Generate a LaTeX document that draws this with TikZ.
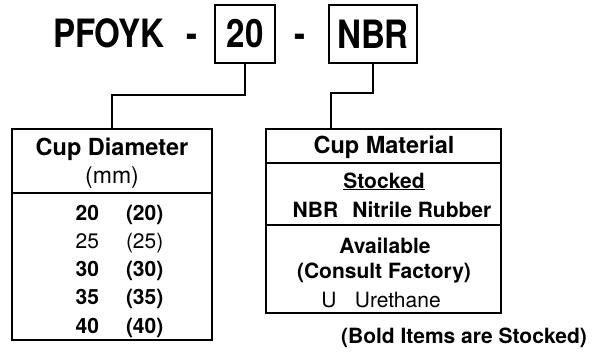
\documentclass[tikz,border=0pt]{standalone}
\usepackage{fontspec}
\setmainfont{TeX Gyre Heros}
\usepackage{tikz}
\usetikzlibrary{positioning}

\newcommand{\titletxt}[1]{\scalebox{0.85}[1]{#1}}

\begin{document}
\begin{tikzpicture}[x=1pt, y=-1pt, line width=2pt,
    big/.style={font=\fontsize{39}{44}\selectfont\bfseries, inner sep=0pt},
    codebox/.style={draw, big, minimum height=58pt},
    txt/.style={font=\fontsize{21}{25}\selectfont, inner sep=0pt, anchor=base},
    txtb/.style={txt, font=\fontsize{21}{25}\selectfont\bfseries},
    headtxt/.style={txt, font=\fontsize{23.5}{27}\selectfont\bfseries},
    unittxt/.style={txt, font=\fontsize{23}{27}\selectfont},
    panel/.style={draw, inner sep=0pt}]
    \useasboundingbox (0,0) rectangle (604,351);

    % 1. Order code
    \node[big, anchor=base west] (pfoyk) at (52,47) {\titletxt{PFOYK}};
    \node[big, anchor=base] (dasha) at (192,47) {\titletxt{-}};
    \node[codebox, minimum width=60pt] (code20) at (245,34) {\titletxt{20}};
    \node[big, anchor=base] (dashb) at (300,47) {\titletxt{-}};
    \node[codebox, minimum width=88pt] (codenbr) at (373,34) {\titletxt{NBR}};

    % 2. Panels
    \node[panel, minimum width=200pt, minimum height=211pt] (diam) at (112,234.5) {};
    \node[panel, minimum width=235pt, minimum height=184pt] (mat) at (383.5,221) {};
    \draw (diam.west |- 0,193) -- (diam.east |- 0,193);
    \draw (mat.west |- 0,163) -- (mat.east |- 0,163);
    \draw (mat.west |- 0,225) -- (mat.east |- 0,225);

    % 3. Connectors
    \draw (code20.south) -- ++(0,31) -| (diam.north);
    \draw (codenbr.south) -- ++(0,29) -| ([xshift=-53pt]mat.north);

    % 4. Cup diameter panel
    \node[headtxt] (dhead) at (112,155) {Cup Diameter};
    \node[unittxt] (dunit) at (112,183) {(mm)};
    \foreach \d/\w [count=\i from 0] in {20/txtb, 25/txt, 30/txtb, 35/txtb, 40/txtb} {
        \node[\w, anchor=base east] (num\d) at (100,220+28.25*\i) {\d};
        \node[\w, anchor=base west] (mm\d) at (125,220+28.25*\i) {(\d)};
    }

    % 5. Cup material panel
    \node[headtxt] (mhead) at (384,153) {Cup Material};
    \node[txtb] (stk) at (384,188) {\underline{Stocked}};
    \node[txtb] (nbr) at (392,217) {NBR\hspace{0.4em} Nitrile Rubber};
    \node[txtb] (avail) at (385,253) {Available};
    \node[txtb] (consult) at (384,278) {(Consult Factory)};
    \node[txt] (ureth) at (381,307) {U\hspace{0.6em} Urethane};
    \node[txtb] (note) at (464,343) {(Bold Items are Stocked)};
\end{tikzpicture}
\end{document}
